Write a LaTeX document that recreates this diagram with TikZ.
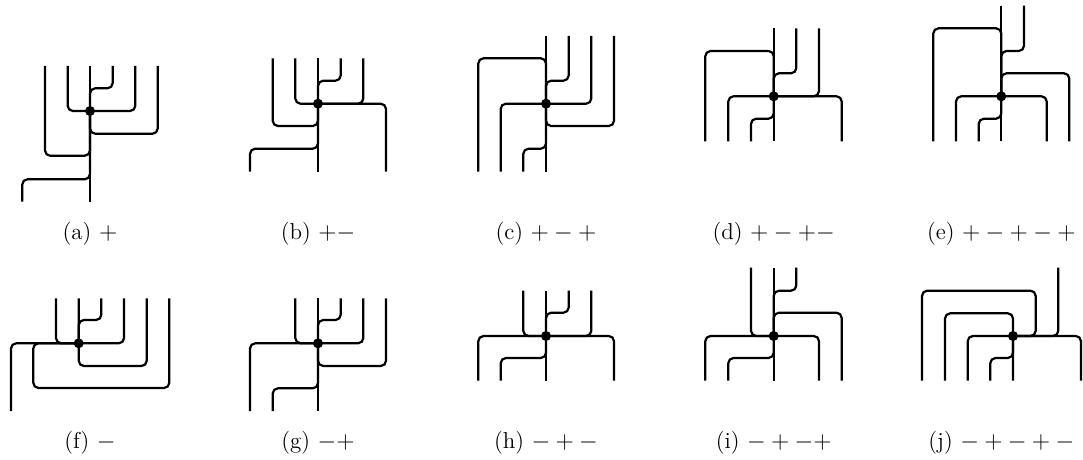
\documentclass[tikz,border=0pt]{standalone}
\begin{document}
\begin{tikzpicture}[x=0.5pt,y=-0.5pt,
  wire/.style={line width=1.1pt, rounded corners=2.6pt},
  vtx/.style={circle, fill=black, inner sep=0pt, minimum size=5pt},
  captxt/.style={anchor=base, inner sep=0pt, font=\fontsize{11.5}{14}\selectfont}]
\useasboundingbox (0,0) rectangle (1083,460);
% ---------- (a)
\coordinate (A) at (90,111);
\draw[wire] (90,66) -- (90,201.7);
\draw[wire] (67.7,66) -- (67.7,111) -- (135.3,111) -- (135.3,66);
\draw[wire] (112.7,66) -- (112.7,88.3) -- (90,88.3) -- (A);
\draw[wire] (157.7,66) -- (157.7,133.7) -- (90,133.7) -- (A);
\draw[wire] (45,66) -- (45,155.7) -- (90,155.7) -- (A);
\draw[wire] (22.3,201.7) -- (22.3,179.3) -- (90,179.3) -- (A);
\node[vtx] (va) at (A) {};
\node[captxt] (capa) at (90,239.5) {(a) $+$};
% ---------- (b)
\coordinate (B) at (318,103.7);
\draw[wire] (318,58.3) -- (318,171.7);
\draw[wire] (340.7,58.3) -- (340.7,80.7) -- (318,80.7) -- (B);
\draw[wire] (295.3,58.3) -- (295.3,103.7) -- (386,103.7) -- (386,171.7);
\draw[wire] (363.3,58.3) -- (363.3,103.7) -- (B);
\draw[wire] (272.7,58.3) -- (272.7,126) -- (318,126) -- (B);
\draw[wire] (250,171.7) -- (250,148.7) -- (318,148.7) -- (B);
\node[vtx] (vb) at (B) {};
\node[captxt] (capb) at (318,239.5) {(b) $+-$};
% ---------- (c)
\coordinate (C) at (546,103.7);
\draw[wire] (546,36) -- (546,171.7);
\draw[wire] (568.7,36) -- (568.7,80.7) -- (546,80.7) -- (C);
\draw[wire] (478.3,171.7) -- (478.3,58.3) -- (546,58.3) -- (C);
\draw[wire] (500.7,171.7) -- (500.7,103.7) -- (591.3,103.7) -- (591.3,36);
\draw[wire] (614,36) -- (614,126) -- (546,126) -- (C);
\draw[wire] (523.3,171.7) -- (523.3,148.7) -- (546,148.7) -- (C);
\node[vtx] (vc) at (C) {};
\node[captxt] (capc) at (546,239.5) {(c) $+-+$};
% ---------- (d)
\coordinate (D) at (773.7,96.3);
\draw[wire] (773.7,28.3) -- (773.7,141.3);
\draw[wire] (796.3,28.3) -- (796.3,73.3) -- (773.7,73.3) -- (D);
\draw[wire] (705.3,141.3) -- (705.3,51) -- (773.7,51) -- (D);
\draw[wire] (728.3,141.3) -- (728.3,96.3) -- (841.7,96.3) -- (841.7,141.3);
\draw[wire] (819,28.3) -- (819,96.3) -- (D);
\draw[wire] (751,141.3) -- (751,118.7) -- (773.7,118.7) -- (D);
\node[vtx] (vd) at (D) {};
\node[captxt] (capd) at (773.7,239.5) {(d) $+-+-$};
% ---------- (e)
\coordinate (E) at (1001.3,96.3);
\draw[wire] (1001.3,5.7) -- (1001.3,141.3);
\draw[wire] (1024,5.7) -- (1024,51) -- (1001.3,51) -- (E);
\draw[wire] (933.3,141.3) -- (933.3,28.3) -- (1001.3,28.3) -- (E);
\draw[wire] (1069.3,141.3) -- (1069.3,73.3) -- (1001.3,73.3) -- (E);
\draw[wire] (956,141.3) -- (956,96.3) -- (1046.7,96.3) -- (1046.7,141.3);
\draw[wire] (978.7,141.3) -- (978.7,118.7) -- (1001.3,118.7) -- (E);
\node[vtx] (ve) at (E) {};
\node[captxt] (cape) at (1001.3,239.5) {(e) $+-+-+$};
% ---------- (f)
\coordinate (F) at (78.7,343.3);
\draw[wire] (11,411) -- (11,343.3) -- (124,343.3) -- (124,298.3);
\draw[wire] (56,298.3) -- (56,343.3) -- (F);
\draw[wire] (78.7,298.3) -- (78.7,366) -- (146.7,366) -- (146.7,298.3);
\draw[wire] (101.3,298.3) -- (101.3,320) -- (78.7,320) -- (F);
\draw[wire] (169.3,298.3) -- (169.3,388) -- (33.3,388) -- (33.3,343.3) -- (F);
\node[vtx] (vf) at (F) {};
\node[captxt] (capf) at (90,448) {(f) $-$};
% ---------- (g)
\coordinate (G) at (318,343.3);
\draw[wire] (318,298.3) -- (318,411);
\draw[wire] (340.7,298.3) -- (340.7,320) -- (318,320) -- (G);
\draw[wire] (250,411) -- (250,343.3) -- (363.3,343.3) -- (363.3,298.3);
\draw[wire] (295.3,298.3) -- (295.3,343.3) -- (G);
\draw[wire] (386,298.3) -- (386,366) -- (318,366) -- (G);
\draw[wire] (272.7,411) -- (272.7,388.3) -- (318,388.3) -- (G);
\node[vtx] (vg) at (G) {};
\node[captxt] (capg) at (318,448) {(g) $-+$};
% ---------- (h)
\coordinate (H) at (546,336);
\draw[wire] (546,290.7) -- (546,380.7);
\draw[wire] (568.7,290.7) -- (568.7,312.7) -- (546,312.7) -- (H);
\draw[wire] (478.3,380.7) -- (478.3,336) -- (614,336) -- (614,380.7);
\draw[wire] (523.3,290.7) -- (523.3,336) -- (H);
\draw[wire] (591.3,290.7) -- (591.3,336) -- (H);
\draw[wire] (500.7,380.7) -- (500.7,358) -- (546,358) -- (H);
\node[vtx] (vh) at (H) {};
\node[captxt] (caph) at (546,448) {(h) $-+-$};
% ---------- (i)
\coordinate (I) at (773.7,336);
\draw[wire] (773.7,267.7) -- (773.7,380.7);
\draw[wire] (796.3,267.7) -- (796.3,290.7) -- (773.7,290.7) -- (I);
\draw[wire] (841.7,380.7) -- (841.7,312.7) -- (773.7,312.7) -- (I);
\draw[wire] (705.3,380.7) -- (705.3,336) -- (819,336) -- (819,380.7);
\draw[wire] (751,267.7) -- (751,336) -- (I);
\draw[wire] (728.3,380.7) -- (728.3,358) -- (773.7,358) -- (I);
\node[vtx] (vi) at (I) {};
\node[captxt] (capi) at (773.7,448) {(i) $-+-+$};
% ---------- (j)
\coordinate (J) at (1013,336);
\draw[wire] (1058.3,267.7) -- (1058.3,336) -- (J);
\draw[wire] (922,380.7) -- (922,290.7) -- (1035.7,290.7) -- (1035.7,336) -- (J);
\draw[wire] (945,380.7) -- (945,313.3) -- (1013,313.3) -- (1013,380.7);
\draw[wire] (967.7,380.7) -- (967.7,336) -- (1081,336) -- (1081,380.7);
\draw[wire] (990.3,380.7) -- (990.3,358) -- (1013,358) -- (J);
\node[vtx] (vj) at (J) {};
\node[captxt] (capj) at (1001.3,448) {(j) $-+-+-$};
\end{tikzpicture}
\end{document}
